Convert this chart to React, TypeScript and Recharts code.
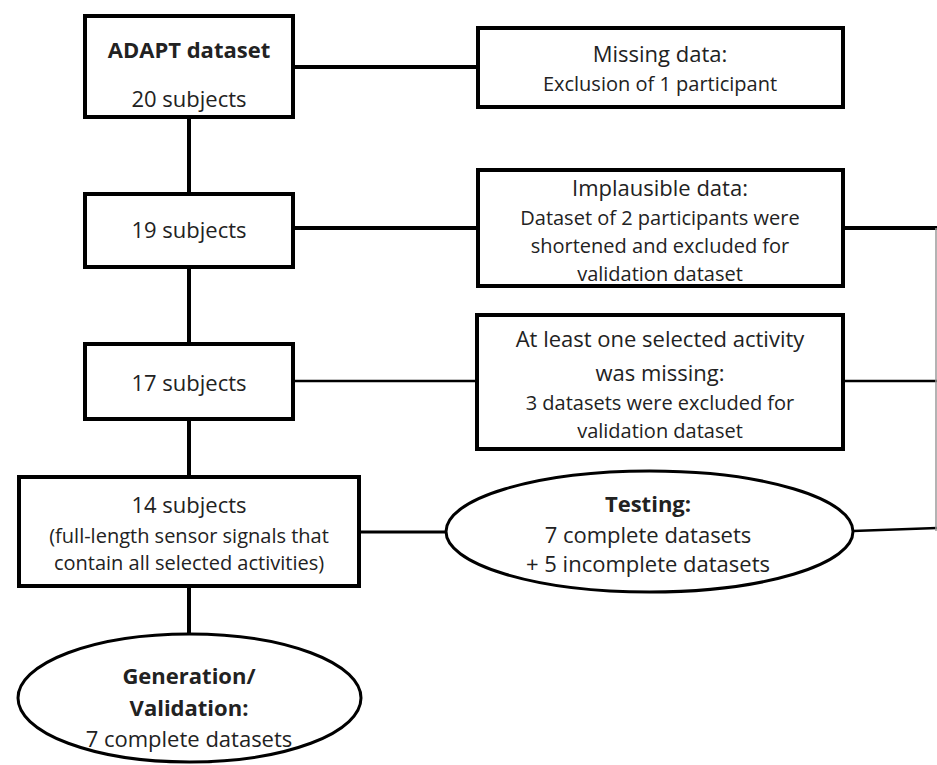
import React from 'react';
import { ScatterChart, Scatter, XAxis, YAxis, ReferenceArea, ReferenceLine } from 'recharts';

const W = 937;
const H = 765;

// boxes: stroke-centre extents in picture units
const boxes = [
  { id: 'adapt', x1: 85, x2: 293, y1: 16, y2: 117 },
  { id: 's19', x1: 85, x2: 293, y1: 194, y2: 267 },
  { id: 's17', x1: 85, x2: 293, y1: 344, y2: 419 },
  { id: 's14', x1: 19, x2: 359, y1: 477, y2: 586 },
  { id: 'missing', x1: 478, x2: 843, y1: 28, y2: 107 },
  { id: 'implausible', x1: 478, x2: 843, y1: 170, y2: 286 },
  { id: 'atleast', x1: 477, x2: 843, y1: 315, y2: 449 },
];

const ellipses = [
  { id: 'generation', x1: 18, x2: 361, y1: 634, y2: 762 },
  { id: 'testing', x1: 446, x2: 853, y1: 471, y2: 592 },
];

const edges = [
  { from: [189, 117], to: [189, 194], w: 'thick' },
  { from: [189, 267], to: [189, 344], w: 'thick' },
  { from: [189, 419], to: [189, 477], w: 'thick' },
  { from: [189, 586], to: [189, 634], w: 'thick' },
  { from: [293, 67], to: [478, 67], w: 'thick' },
  { from: [293, 228], to: [478, 228], w: 'thick' },
  { from: [843, 228], to: [937, 228], w: 'thick' },
  { from: [293, 381], to: [477, 381], w: 'thin' },
  { from: [843, 381], to: [937, 381], w: 'thin' },
  { from: [359, 532], to: [446, 532], w: 'mid' },
  { from: [853, 531], to: [937, 528], w: 'thin' },
  { from: [936, 228], to: [936, 531], w: 'faint' },
];

const labels = [
  { x: 189, y: 49, text: 'ADAPT dataset', kind: 'bold' },
  { x: 189, y: 98, text: '20 subjects', kind: 'head' },
  { x: 189, y: 229, text: '19 subjects', kind: 'head' },
  { x: 189, y: 382, text: '17 subjects', kind: 'head' },
  { x: 189, y: 504, text: '14 subjects', kind: 'head' },
  { x: 189, y: 535, text: '(full-length sensor signals that', kind: 'body' },
  { x: 189, y: 562, text: 'contain all selected activities)', kind: 'body' },
  { x: 189, y: 675, text: 'Generation/', kind: 'bold' },
  { x: 189, y: 707, text: 'Validation:', kind: 'bold' },
  { x: 189, y: 738, text: '7 complete datasets', kind: 'head' },
  { x: 660, y: 53, text: 'Missing data:', kind: 'head' },
  { x: 660, y: 83, text: 'Exclusion of 1 participant', kind: 'body' },
  { x: 660, y: 187, text: 'Implausible data:', kind: 'head' },
  { x: 660, y: 217, text: 'Dataset of 2 participants were', kind: 'body' },
  { x: 660, y: 245, text: 'shortened and excluded for', kind: 'body' },
  { x: 660, y: 273, text: 'validation dataset', kind: 'body' },
  { x: 660, y: 338, text: 'At least one selected activity', kind: 'head' },
  { x: 660, y: 372, text: 'was missing:', kind: 'head' },
  { x: 660, y: 402, text: '3 datasets were excluded for', kind: 'body' },
  { x: 660, y: 430, text: 'validation dataset', kind: 'body' },
  { x: 648, y: 503, text: 'Testing:', kind: 'bold' },
  { x: 648, y: 534, text: '7 complete datasets', kind: 'head' },
  { x: 648, y: 563, text: '+ 5 incomplete datasets', kind: 'head' },
];

const FONT = '"Open Sans", sans-serif';
const INK = '#222';

const textStyle: Record<string, { size: number; weight: number }> = {
  head: { size: 22, weight: 400 },
  bold: { size: 22, weight: 700 },
  body: { size: 20, weight: 400 },
};

const edgeStyle: Record<string, { stroke: string; width: number }> = {
  thick: { stroke: '#000', width: 4 },
  mid: { stroke: '#000', width: 3 },
  thin: { stroke: '#000', width: 2.5 },
  faint: { stroke: '#9a9a9a', width: 1.5 },
};

const EllipseShape = (props: any) => {
  const { x, y, width, height } = props;
  return (
    <ellipse
      cx={x + width / 2}
      cy={y + height / 2}
      rx={width / 2}
      ry={height / 2}
      fill="#fff"
      stroke="#000"
      strokeWidth={3}
    />
  );
};

const LabelShape = (props: any) => {
  const { cx, cy, payload } = props;
  const s = textStyle[payload.kind];
  return (
    <text
      x={cx}
      y={cy}
      textAnchor="middle"
      dominantBaseline="central"
      fontFamily={FONT}
      fontSize={s.size}
      fontWeight={s.weight}
      fill={INK}
    >
      {payload.text}
    </text>
  );
};

export default function App() {
  return (
    <div style={{ position: 'absolute', left: 0, top: 0, width: W, height: H, background: '#fff' }}>
      <ScatterChart width={W} height={H} margin={{ top: 0, right: 0, bottom: 0, left: 0 }}>
        <XAxis type="number" dataKey="x" domain={[0, W]} hide />
        <YAxis type="number" dataKey="y" domain={[0, H]} reversed hide />
        {edges.map((e, i) => (
          <ReferenceLine
            key={'e' + i}
            segment={[
              { x: e.from[0], y: e.from[1] },
              { x: e.to[0], y: e.to[1] },
            ]}
            stroke={edgeStyle[e.w].stroke}
            strokeWidth={edgeStyle[e.w].width}
            ifOverflow="visible"
          />
        ))}
        {boxes.map((b) => (
          <ReferenceArea
            key={b.id}
            x1={b.x1}
            x2={b.x2}
            y1={b.y1}
            y2={b.y2}
            fill="#fff"
            fillOpacity={1}
            stroke="#000"
            strokeWidth={4}
            ifOverflow="visible"
          />
        ))}
        {ellipses.map((b) => (
          <ReferenceArea
            key={b.id}
            x1={b.x1}
            x2={b.x2}
            y1={b.y1}
            y2={b.y2}
            shape={EllipseShape}
            ifOverflow="visible"
          />
        ))}
        <Scatter data={labels} shape={LabelShape} isAnimationActive={false} />
      </ScatterChart>
    </div>
  );
}
